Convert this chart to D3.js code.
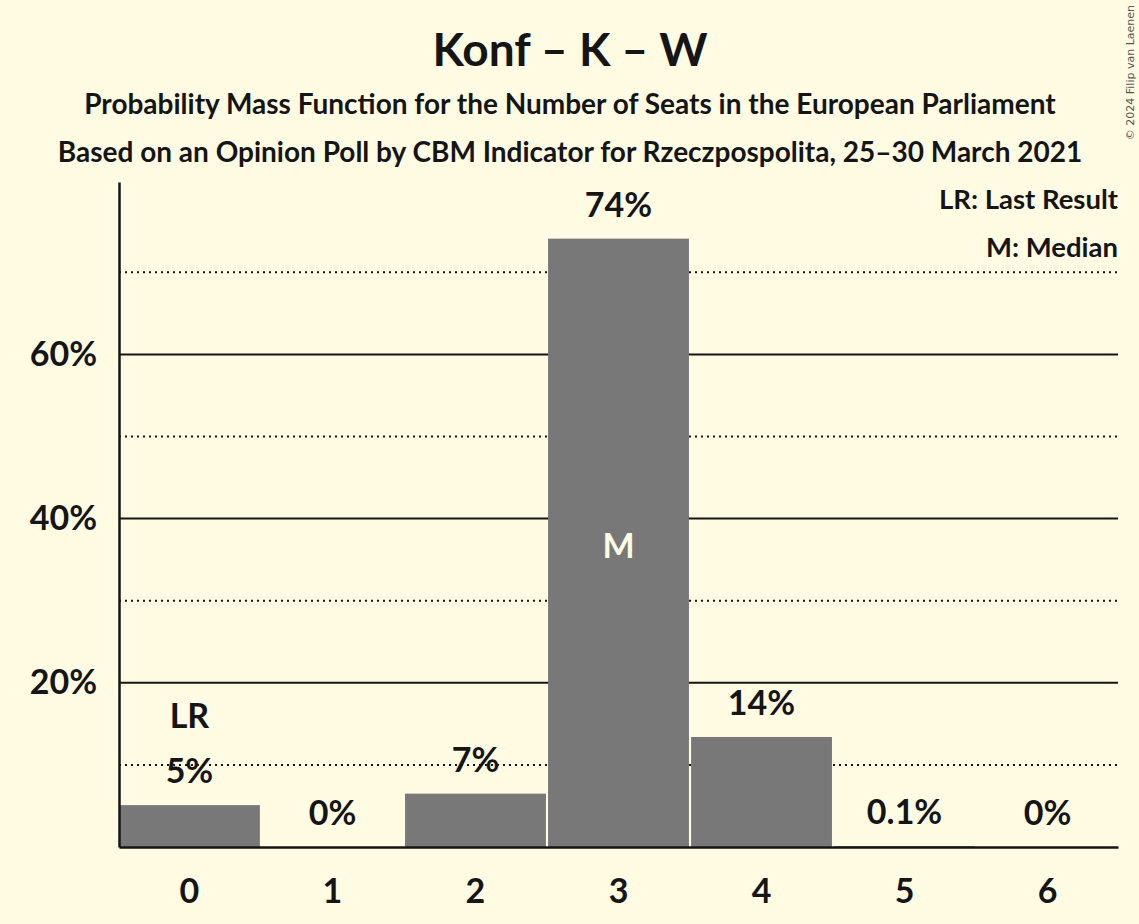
<!DOCTYPE html>
<html>
<head>
<meta charset="utf-8">
<script src="https://cdn.jsdelivr.net/npm/d3@7"></script>
<style>
  body { margin: 0; background: #FFFCE3; }
  svg text { font-family: Lato, "Noto Sans", sans-serif; fill: #151515; }
</style>
</head>
<body>
<svg id="chart" width="1139" height="924"></svg>
<script>
// data
var seats = [0, 1, 2, 3, 4, 5, 6];
var probs = [0.051, 0, 0.065, 0.741, 0.134, 0.001, 0];
var probLabels = ["5%", "0%", "7%", "74%", "14%", "0.1%", "0%"];
var majorTicks = [0.2, 0.4, 0.6];
var minorTicks = [0.1, 0.3, 0.5, 0.7];
var lastResult = 0;
var median = 3;

var svg = d3.select("#chart");
var bg = "#FFFCE3";
svg.append("rect").attr("width", 1139).attr("height", 924).attr("fill", bg);

var plotLeft = 119, plotRight = 1118, plotBottom = 847, plotTop = 182;

var x = d3.scaleBand().domain(seats).range([plotLeft, plotRight]).paddingInner(0.015).paddingOuter(0);
var y = d3.scaleLinear().domain([0, 0.81]).range([plotBottom, plotTop]);

// titles
svg.append("text").attr("x", 570).attr("y", 66).attr("text-anchor", "middle")
  .attr("font-size", 46).attr("font-weight", 700).text("Konf – K – W");
svg.append("text").attr("x", 570).attr("y", 114).attr("text-anchor", "middle")
  .attr("font-size", 28).attr("font-weight", 700)
  .text("Probability Mass Function for the Number of Seats in the European Parliament");
svg.append("text").attr("x", 570).attr("y", 162).attr("text-anchor", "middle")
  .attr("font-size", 28).attr("font-weight", 700)
  .text("Based on an Opinion Poll by CBM Indicator for Rzeczpospolita, 25–30 March 2021");

// gridlines
svg.append("g").selectAll("line").data(minorTicks).enter().append("line")
  .attr("x1", plotLeft).attr("x2", plotRight)
  .attr("y1", function(d) { return y(d); }).attr("y2", function(d) { return y(d); })
  .attr("stroke", "#151515").attr("stroke-width", 2).attr("stroke-dasharray", "2,4");
svg.append("g").selectAll("line").data(majorTicks).enter().append("line")
  .attr("x1", plotLeft).attr("x2", plotRight)
  .attr("y1", function(d) { return y(d); }).attr("y2", function(d) { return y(d); })
  .attr("stroke", "#151515").attr("stroke-width", 2);

// bars
svg.append("g").selectAll("rect").data(seats).enter().append("rect")
  .attr("x", function(d) { return x(d); })
  .attr("y", function(d, i) { return y(probs[i]); })
  .attr("width", x.bandwidth())
  .attr("height", function(d, i) { return plotBottom - y(probs[i]); })
  .attr("fill", "#787878");

// axes
var yAxis = d3.axisLeft(y).tickValues(majorTicks).tickFormat(d3.format(".0%")).tickSize(0).tickPadding(22);
var gy = svg.append("g").attr("transform", "translate(" + plotLeft + ",0)").call(yAxis);
gy.select(".domain").attr("stroke", "#151515").attr("stroke-width", 2.5);
gy.selectAll("text").attr("font-size", 34).attr("font-weight", 700).attr("fill", "#151515")
  .attr("font-family", "Lato");

var xAxis = d3.axisBottom(x).tickSize(0).tickPadding(32);
var gx = svg.append("g").attr("transform", "translate(0," + plotBottom + ")").call(xAxis);
gx.select(".domain").attr("stroke", "#151515").attr("stroke-width", 2.5);
gx.selectAll("text").attr("font-size", 34).attr("font-weight", 700).attr("fill", "#151515")
  .attr("font-family", "Lato");

// value labels
svg.append("g").selectAll("text").data(seats).enter().append("text")
  .attr("x", function(d) { return x(d) + x.bandwidth() / 2; })
  .attr("y", function(d, i) { return y(probs[i]) - 34; })
  .attr("dy", "0.35em").attr("text-anchor", "middle")
  .attr("font-size", 34).attr("font-weight", 700)
  .text(function(d, i) { return probLabels[i]; });

// last result marker
svg.append("text")
  .attr("x", x(lastResult) + x.bandwidth() / 2)
  .attr("y", y(probs[lastResult]) - 89)
  .attr("dy", "0.35em").attr("text-anchor", "middle")
  .attr("font-size", 34).attr("font-weight", 700).text("LR");

// median marker
svg.append("text")
  .attr("x", x(median) + x.bandwidth() / 2)
  .attr("y", (y(probs[median]) + plotBottom) / 2 + 3)
  .attr("dy", "0.35em").attr("text-anchor", "middle")
  .attr("font-size", 34).attr("font-weight", 700)
  .style("fill", bg).text("M");

// legend
svg.append("text").attr("x", plotRight).attr("y", 209).attr("text-anchor", "end")
  .attr("font-size", 27.5).attr("font-weight", 700).text("LR: Last Result");
svg.append("text").attr("x", plotRight).attr("y", 257).attr("text-anchor", "end")
  .attr("font-size", 27.5).attr("font-weight", 700).text("M: Median");

// copyright
svg.append("text").attr("transform", "translate(1134,5) rotate(-90)")
  .attr("text-anchor", "end").attr("font-size", 11)
  .style("fill", "#555").style("font-family", "'DejaVu Sans', sans-serif")
  .text("© 2024 Filip van Laenen");
</script>
</body>
</html>
